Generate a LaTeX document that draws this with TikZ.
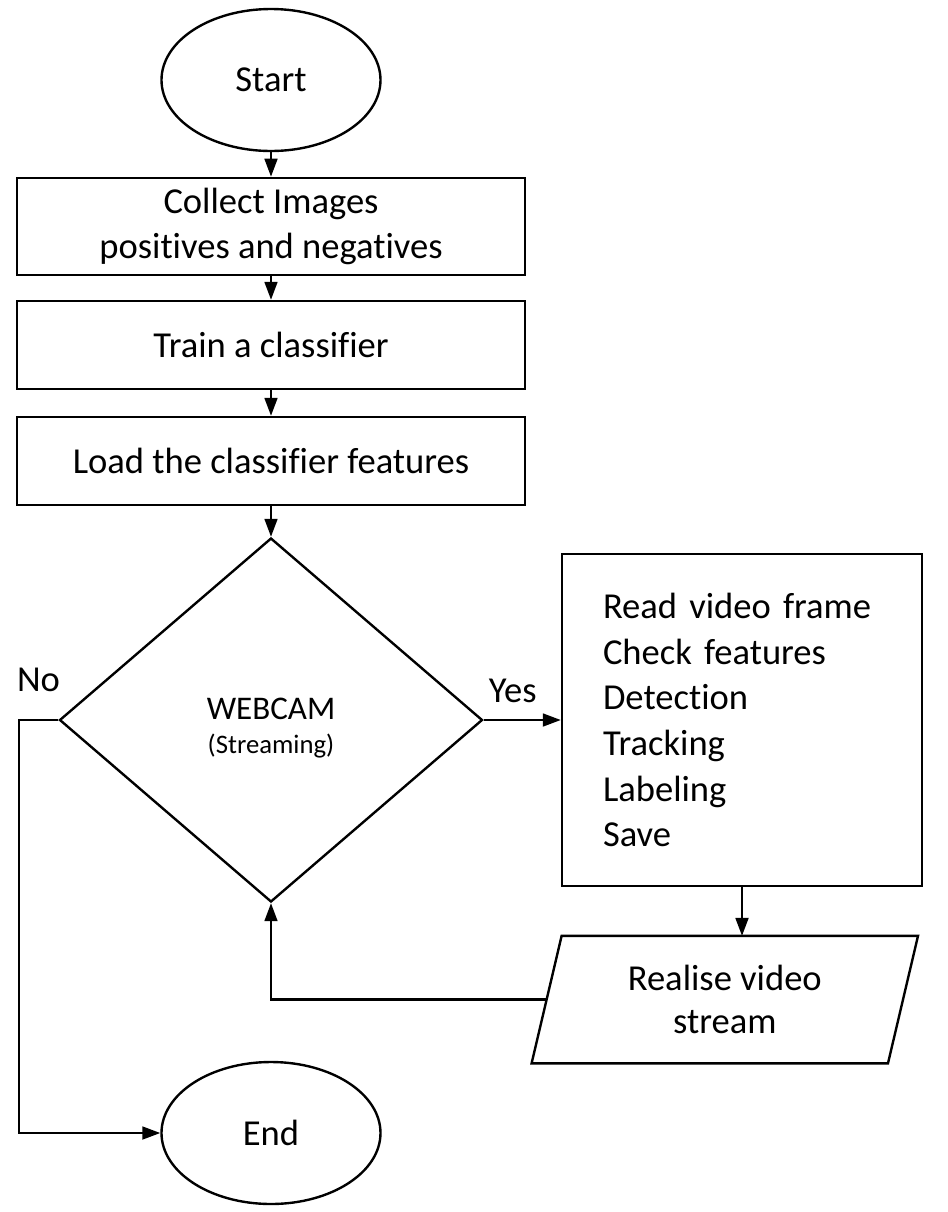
\documentclass[tikz,border=0pt]{standalone}
\usepackage{fontspec}
\setmainfont{Carlito}[Ligatures=CommonOff]
\usetikzlibrary{arrows.meta, shapes.geometric}

\begin{document}
\begin{tikzpicture}[
    line width=1.7pt,
    flow/.style={-{Triangle[length=0.45cm, width=0.32cm]}},
    terminal/.style={draw, ellipse, minimum width=5.475cm, minimum height=3.55cm, inner sep=0pt, font=\fontsize{26}{32.5}\selectfont},
    process/.style={draw, rectangle, minimum width=12.7cm, minimum height=2.2cm, align=center, font=\fontsize{26}{32.5}\selectfont},
    decision/.style={draw, diamond, minimum width=10.575cm, minimum height=9.1cm, inner sep=0pt},
    listbox/.style={draw, rectangle, text width=6.95cm, inner xsep=1.025cm, minimum height=8.3cm, align=left, font=\fontsize{26}{32.5}\selectfont},
    io/.style={rectangle, minimum width=8.85cm, minimum height=3.125cm, align=center, font=\fontsize{26}{31}\selectfont},
    answer/.style={anchor=base west, font=\fontsize{26}{32.5}\selectfont}
]
    \useasboundingbox (0,0) rectangle (23.7,-30.3);

    % main column
    \node[terminal] (start) at (6.775,-2.0) {Start};
    \node[process, minimum height=2.425cm] (collect) at (6.775,-5.66) {Collect Images\\positives and negatives};
    \node[process] (train) at (6.775,-8.625) {Train a classifier};
    \node[process] (load) at (6.775,-11.525) {Load the classifier features};
    \node[decision] (webcam) at (6.775,-18.0) {};
    \node[align=center, font=\fontsize{23.5}{25}\selectfont] (webcamtext) at ([yshift=-0.2cm]webcam.center) {WEBCAM\\[-1pt]{\fontsize{19}{24}\selectfont (Streaming)}};
    \node[terminal] (end) at (6.775,-28.325) {End};

    % right column
    \node[listbox] (steps) at (18.55,-18.0) {Read video frame\\Check features\\Detection\\Tracking\\Labeling\\Save};
    \node[io] (realise) at (18.12,-24.99) {Realise video\\stream};
    \draw ([xshift=-0.375cm]realise.south west) -- ([xshift=0.375cm]realise.north west)
        -- ([xshift=0.375cm]realise.north east) -- ([xshift=-0.375cm]realise.south east) -- cycle;

    \coordinate (nocorner) at (0.475,-18.0);

    \draw[flow] (start) -- (collect);
    \draw[flow] (collect) -- (train);
    \draw[flow] (train) -- (load);
    \draw[flow] (load) -- (webcam);

    \draw[flow] (webcam.east) -- (steps.west);
    \node[answer] (yes) at (12.075,-17.55) {Yes};
    \draw[flow] (steps.south) -- (steps.south |- realise.north);
    \draw[flow] (realise.west) -| (webcam.south);

    \draw[flow] (webcam.west) -- (nocorner) |- (end.west);
    \node[answer] (no) at (0.28,-17.275) {No};
\end{tikzpicture}
\end{document}
